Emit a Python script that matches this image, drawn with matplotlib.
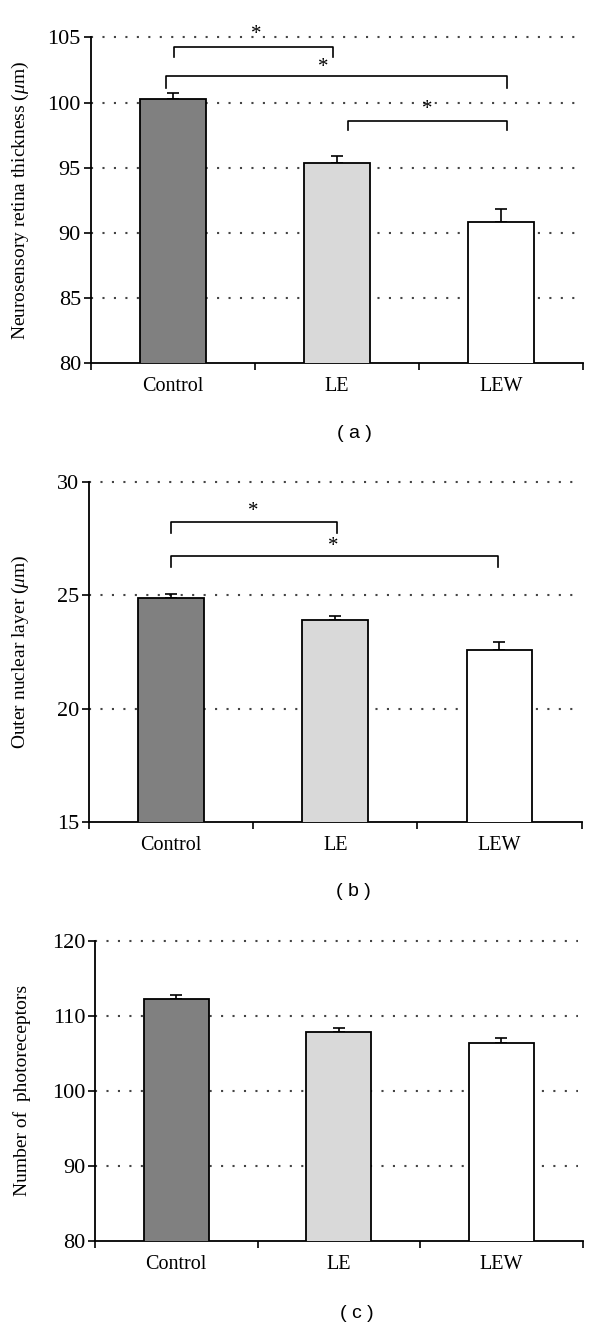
import matplotlib
matplotlib.use("Agg")
import matplotlib.pyplot as plt
import numpy as np

plt.rcParams['font.family'] = ['Liberation Serif', 'DejaVu Serif']
plt.rcParams['mathtext.fontset'] = 'custom'
plt.rcParams['mathtext.rm'] = 'Liberation Serif'
plt.rcParams['mathtext.it'] = 'Liberation Serif:italic'

groups = ['Control', 'LE', 'LEW']
bar_colors = ['#808080', '#d9d9d9', '#ffffff']

# panel a: neurosensory retina thickness
retina = [100.25, 95.38, 90.83]
retina_err = [0.48, 0.52, 0.97]
# panel b: outer nuclear layer
onl = [24.88, 23.90, 22.57]
onl_err = [0.19, 0.19, 0.38]
# panel c: photoreceptors
photo = [112.2, 107.8, 106.3]
photo_err = [0.57, 0.57, 0.70]

# significance brackets: (x1, x2, top, leg_bottom, star_x, star_y)
sig_a = [(0.01, 0.98, 104.26, 103.5, 0.51, 105.25),
         (-0.04, 2.04, 102.06, 101.1, 0.92, 102.7),
         (1.07, 2.04, 98.58, 97.9, 1.55, 99.5)]
sig_b = [(0.0, 1.01, 28.22, 27.75, 0.5, 28.7),
         (0.0, 1.99, 26.73, 26.26, 0.99, 27.15)]

W, H = 600, 1327
fig = plt.figure(figsize=(W / 100, H / 100), dpi=100)


def panel(box, vals, errs, ylim, yticks, ylabel, sigs, letter, letter_y):
    left, right, top, bottom = box
    ax = fig.add_axes([left / W, 1 - bottom / H, (right - left) / W, (bottom - top) / H])
    x = np.arange(len(groups))
    for yt in yticks[1:]:
        ax.axhline(yt, xmax=0.99, color='#444444', lw=1.5, linestyle=(0, (1, 4.5)),
                   zorder=0, clip_on=False)
    ax.bar(x, vals, width=0.4, color=bar_colors, edgecolor='black', linewidth=1.3, zorder=3)
    ax.errorbar(x, vals, yerr=[np.zeros(len(errs)), errs], fmt='none', ecolor='black',
                elinewidth=1.2, capsize=4, capthick=1.2, zorder=2)
    for x1, x2, yt, yb, sx, sy in sigs:
        ax.plot([x1, x1, x2, x2], [yb, yt, yt, yb], color='black', lw=1.2, clip_on=False, zorder=4)
        ax.text(sx, sy, '*', ha='center', va='center', fontsize=15, zorder=4)
    ax.set_xlim(-0.5, 2.5)
    ax.set_ylim(*ylim)
    ax.set_yticks(yticks)
    ax.set_xticks(x)
    ax.set_xticklabels(groups, fontsize=14.5)
    ax.set_xticks([-0.5, 0.5, 1.5, 2.5], minor=True)
    ax.tick_params(axis='x', which='major', length=0, pad=10)
    ax.tick_params(axis='x', which='minor', length=5, width=1.2, direction='out')
    ax.tick_params(axis='y', length=5, width=1.2, labelsize=16, pad=2)
    for s in ['top', 'right']:
        ax.spines[s].set_visible(False)
    for s in ['left', 'bottom']:
        ax.spines[s].set_linewidth(1.3)
    ax.set_ylabel(ylabel, fontsize=14)
    ax.yaxis.set_label_coords((31 - left) / (right - left), 0.5)
    fig.text(0.5 * (left + right) / W + 0.03, 1 - letter_y / H, '( %s )' % letter,
             ha='center', va='center', fontsize=14, family='Liberation Sans')
    return ax


panel((90.7, 582.7, 37.3, 363.3), retina, retina_err, (80, 105), [80, 85, 90, 95, 100, 105],
      r'Neurosensory retina thickness ($\mu$m)', sig_a, 'a', 433)
panel((89, 581.5, 481.7, 822.3), onl, onl_err, (15, 30), [15, 20, 25, 30],
      r'Outer nuclear layer ($\mu$m)', sig_b, 'b', 892)
panel((95, 582.7, 940.7, 1240.7), photo, photo_err, (80, 120), [80, 90, 100, 110, 120],
      'Number of  photoreceptors', [], 'c', 1313)

fig.savefig('out.png', dpi=100)
